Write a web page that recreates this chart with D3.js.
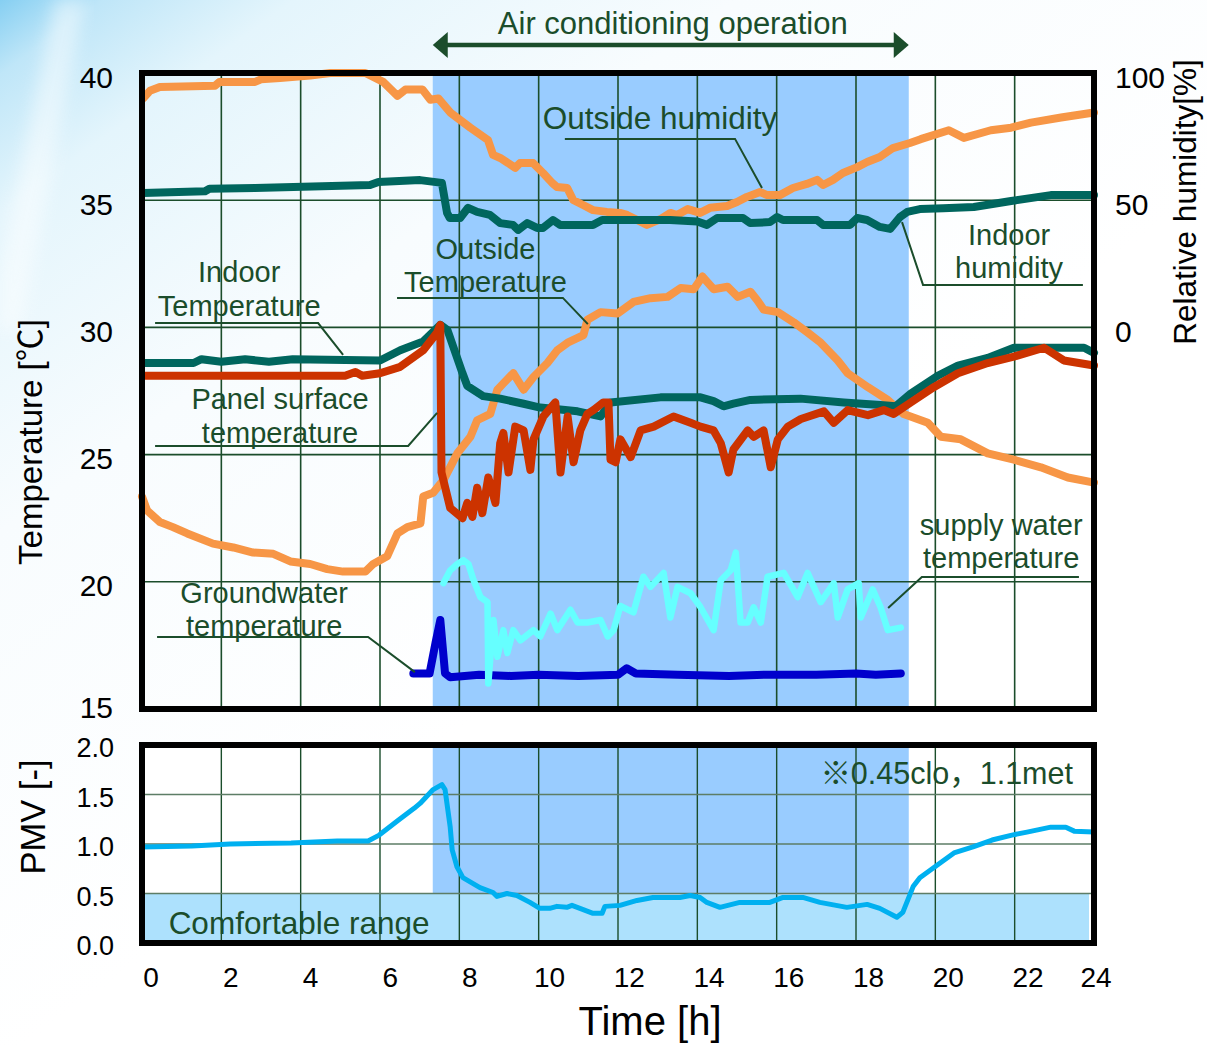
<!DOCTYPE html>
<html>
<head>
<meta charset="utf-8">
<script src="https://cdn.jsdelivr.net/npm/d3@7"></script>
<style>
  body { margin: 0; background: #fff; }
  svg { display: block; font-family: "Liberation Sans", Arial, "Noto Sans CJK JP", sans-serif; }
</style>
</head>
<body>
<script>
// ---------- data ----------
var hourTicks = [0, 2, 4, 6, 8, 10, 12, 14, 16, 18, 20, 22, 24];
var tempTicks = [15, 20, 25, 30, 35, 40];
var humTicks = [0, 50, 100];
var pmvTicks = [0.0, 0.5, 1.0, 1.5, 2.0];
var acPeriod = [7.33, 19.33];   // air conditioning on / off [h]
var comfortMax = 0.5;

// outside relative humidity [%]
var outHumHours = [0.03, 0.2, 0.45, 1.84, 1.95, 2.85, 3.0, 3.48, 4.24, 4.75, 5.63, 6.08, 6.44, 6.64, 7.07, 7.27, 7.47, 7.77, 8.28, 8.72, 8.85, 9.03, 9.23, 9.41, 9.53, 9.86, 10.11, 10.34, 10.46, 10.72, 10.87, 11.12, 11.37, 11.72, 12.05, 12.23, 12.73, 13.06, 13.32, 13.49, 13.76, 14.07, 14.32, 14.75, 15.0, 15.25, 15.58, 15.76, 16.08, 16.41, 16.76, 17.02, 17.17, 17.42, 17.67, 18.03, 18.28, 18.6, 18.93, 19.36, 19.63, 20.34, 20.72, 21.4, 21.91, 22.41, 23.17, 24.0];
var outHumValues = [90, 93, 94.5, 95, 96.5, 96.5, 97.5, 98, 99, 100, 100, 96.5, 91, 93.5, 93.5, 89.5, 90, 84.5, 78.5, 73.7, 67.8, 66.6, 64.6, 62.7, 64.6, 64.6, 60.7, 56.8, 55.2, 54.8, 50.1, 48.1, 46.1, 45.4, 45, 44.2, 40.3, 42.5, 45, 44.2, 46.5, 45, 47, 47.7, 49.3, 51.3, 53.2, 52, 52, 54.8, 56.4, 58, 56, 58, 60.7, 63, 65, 67, 70.5, 72.5, 74, 77.5, 74.5, 77.5, 78.5, 80.5, 82.5, 84.5];

// indoor relative humidity [%]
var inHumHours = [0.03, 1.59, 1.7, 2.85, 5.75, 5.96, 7.01, 7.56, 7.69, 7.76, 8.02, 8.22, 8.45, 8.77, 9.03, 9.35, 9.48, 9.71, 9.96, 10.11, 10.36, 10.54, 11.37, 11.6, 13.31, 14.0, 14.24, 14.5, 15.15, 15.33, 15.83, 16.01, 16.16, 17.02, 17.17, 17.85, 18.03, 18.28, 18.6, 18.86, 19.11, 19.29, 19.61, 20.2, 20.97, 21.91, 22.91, 24.0];
var inHumValues = [52.8, 53.5, 54.5, 54.8, 56, 57.2, 57.9, 56.8, 45, 43, 43, 47, 45.4, 44.2, 41, 40.3, 38.3, 41, 39.1, 39.1, 42.2, 40.3, 40.3, 42.2, 42.2, 41.6, 40.3, 43, 43, 41, 41.4, 43.4, 42.2, 42.2, 40.3, 40.3, 43, 42.2, 39.5, 38.7, 43.4, 45.4, 46.5, 46.8, 47.3, 49.7, 52, 52];

// outside temperature [°C]
var outTempHours = [0, 0.13, 0.45, 0.78, 1.14, 1.79, 2.3, 2.8, 3.31, 3.74, 4.24, 4.67, 5.07, 5.63, 5.83, 6.18, 6.44, 6.69, 7.02, 7.09, 7.34, 7.6, 7.95, 8.28, 8.45, 8.78, 8.96, 9.11, 9.36, 9.62, 9.87, 10.22, 10.47, 10.73, 11.13, 11.23, 11.56, 11.99, 12.39, 12.82, 13.25, 13.58, 13.91, 14.13, 14.41, 14.76, 15.02, 15.34, 15.52, 15.67, 16.03, 16.43, 16.78, 17.11, 17.54, 17.79, 18.3, 18.8, 19.2, 19.81, 20.14, 20.64, 21.32, 21.98, 22.66, 23.34, 24.0];
var outTempValues = [23.35, 22.8, 22.35, 22.15, 21.9, 21.5, 21.35, 21.15, 21.1, 20.8, 20.7, 20.5, 20.4, 20.4, 20.7, 21.0, 21.9, 22.15, 22.3, 23.35, 23.5, 24.0, 25.05, 25.7, 26.35, 26.6, 27.55, 27.8, 28.2, 27.55, 28.05, 28.6, 29.1, 29.4, 29.7, 30.3, 30.6, 30.55, 31.0, 31.15, 31.2, 31.55, 31.5, 32.0, 31.5, 31.6, 31.2, 31.4, 31.05, 30.7, 30.6, 30.2, 29.8, 29.4, 28.7, 28.2, 27.65, 27.15, 26.6, 26.25, 25.7, 25.6, 25.05, 24.8, 24.5, 24.1, 23.9];

// indoor temperature [°C]
var inTempHours = [0.03, 1.3, 1.5, 2.0, 2.6, 3.2, 3.8, 6.0, 6.51, 7.09, 7.52, 7.7, 8.08, 8.2, 8.6, 9.03, 9.62, 10.04, 10.98, 11.56, 11.81, 13.07, 14.08, 14.41, 14.66, 14.91, 15.34, 16.6, 17.69, 18.62, 19.0, 19.38, 20.06, 20.57, 21.32, 21.98, 23.75, 24.0];
var inTempValues = [28.6, 28.6, 28.75, 28.65, 28.75, 28.65, 28.75, 28.7, 29.1, 29.45, 30.1, 29.9, 28.2, 27.7, 27.3, 27.2, 27.0, 26.85, 26.7, 26.5, 27.05, 27.25, 27.25, 27.1, 26.9, 27.0, 27.15, 27.2, 27.05, 26.95, 26.9, 27.4, 28.1, 28.5, 28.8, 29.2, 29.2, 29.0];

// panel surface temperature [°C]
var panelHours = [0.03, 5.12, 5.38, 5.55, 6.0, 6.51, 7.09, 7.44, 7.52, 7.55, 7.77, 8.08, 8.2, 8.33, 8.45, 8.58, 8.73, 8.91, 9.03, 9.11, 9.24, 9.41, 9.62, 9.79, 9.87, 10.12, 10.42, 10.55, 10.73, 10.88, 11.05, 11.23, 11.38, 11.63, 11.76, 11.81, 11.94, 12.06, 12.32, 12.57, 12.9, 13.4, 13.83, 14.08, 14.41, 14.59, 14.79, 14.91, 15.27, 15.42, 15.67, 15.85, 16.03, 16.28, 16.61, 17.19, 17.44, 17.79, 18.3, 18.7, 18.95, 19.38, 19.96, 20.57, 21.32, 21.98, 22.74, 23.24, 24.0];
var panelValues = [28.1, 28.1, 28.25, 28.1, 28.2, 28.45, 29.1, 29.8, 30.1, 24.3, 22.9, 22.5, 23.1, 22.55, 23.7, 22.7, 24.1, 23.1, 25.45, 25.85, 24.3, 26.1, 25.95, 24.4, 25.6, 26.5, 27.05, 24.3, 26.5, 24.7, 25.95, 26.6, 26.75, 27.05, 27.05, 24.8, 24.7, 25.6, 24.9, 25.95, 26.1, 26.5, 26.25, 26.1, 25.95, 25.45, 24.3, 25.2, 25.95, 25.7, 25.95, 24.5, 25.6, 26.1, 26.4, 26.7, 26.25, 26.75, 26.55, 26.75, 26.6, 27.05, 27.65, 28.2, 28.6, 28.85, 29.2, 28.7, 28.5];

// groundwater temperature [°C]
var groundHours = [6.84, 7.25, 7.4, 7.52, 7.64, 7.77, 8.5, 9.3, 10.0, 11.0, 12.0, 12.22, 12.45, 13.5, 14.8, 15.8, 17.0, 18.0, 18.5, 19.13];
var groundValues = [16.4, 16.4, 17.6, 18.5, 16.4, 16.25, 16.35, 16.3, 16.35, 16.3, 16.35, 16.6, 16.4, 16.35, 16.3, 16.35, 16.35, 16.4, 16.35, 16.4];

// supply water temperature [°C]
var supplyHours = [7.6, 7.77, 7.95, 8.1, 8.23, 8.35, 8.53, 8.71, 8.73, 8.86, 8.96, 9.11, 9.21, 9.36, 9.54, 9.87, 10.04, 10.3, 10.47, 10.8, 10.98, 11.23, 11.56, 11.74, 11.89, 12.06, 12.39, 12.64, 12.82, 13.15, 13.32, 13.5, 13.83, 14.08, 14.41, 14.59, 14.84, 14.97, 15.09, 15.27, 15.42, 15.6, 15.77, 16.18, 16.53, 16.78, 17.11, 17.44, 17.54, 17.79, 18.07, 18.12, 18.42, 18.62, 18.8, 19.13];
var supplyValues = [19.95, 20.45, 20.7, 20.85, 20.7, 20.1, 19.4, 19.2, 16.0, 18.5, 17.05, 18.1, 17.2, 18.1, 17.7, 18.1, 17.85, 18.75, 18.1, 18.9, 18.4, 18.4, 18.5, 17.85, 18.1, 19.05, 18.8, 20.2, 19.8, 20.35, 18.6, 19.8, 19.55, 19.0, 18.1, 20.05, 20.45, 21.15, 18.4, 18.4, 19.0, 18.4, 20.2, 20.35, 19.4, 20.35, 19.2, 19.95, 18.6, 19.7, 19.95, 18.6, 19.7, 19.0, 18.1, 18.2];

// PMV [-]
var pmvHours = [0, 1.26, 2.22, 3.76, 4.92, 5.7, 5.98, 6.46, 6.86, 7.01, 7.34, 7.56, 7.64, 7.77, 7.82, 7.94, 8.09, 8.52, 8.85, 8.95, 9.2, 9.45, 9.78, 10.03, 10.28, 10.46, 10.71, 10.84, 11.04, 11.37, 11.6, 11.67, 12.05, 12.48, 12.88, 13.56, 13.82, 14.07, 14.24, 14.57, 15.07, 15.83, 16.16, 16.66, 17.09, 17.77, 18.28, 18.6, 19.03, 19.18, 19.44, 19.61, 20.06, 20.47, 20.95, 21.43, 21.93, 22.31, 22.91, 23.29, 23.5, 24.0];
var pmvValues = [0.97, 0.98, 1.0, 1.01, 1.03, 1.03, 1.09, 1.24, 1.36, 1.41, 1.55, 1.6, 1.55, 1.17, 0.94, 0.77, 0.66, 0.56, 0.51, 0.47, 0.5, 0.48, 0.41, 0.35, 0.35, 0.37, 0.36, 0.38, 0.35, 0.3, 0.3, 0.37, 0.38, 0.43, 0.46, 0.46, 0.48, 0.46, 0.41, 0.36, 0.41, 0.41, 0.46, 0.46, 0.41, 0.36, 0.39, 0.35, 0.26, 0.31, 0.57, 0.66, 0.79, 0.91, 0.97, 1.04, 1.09, 1.12, 1.17, 1.17, 1.13, 1.12];

// ---------- layout ----------
var W = 1207, H = 1046;
var green = "#1b4d2b";

var svg = d3.select("body").append("svg")
  .attr("width", W).attr("height", H);

// background wash (light blue at the top-left corner)
var defs = svg.append("defs");
var grad = defs.append("linearGradient").attr("id", "bg")
  .attr("x1", 0).attr("y1", 0).attr("x2", 0.5).attr("y2", 0.6);
[[0, "#86cff2"], [0.07, "#bfe6f8"], [0.2, "#e4f5fc"], [0.5, "#f8fcfe"], [1, "#ffffff"]]
  .forEach(function (s) { grad.append("stop").attr("offset", s[0]).attr("stop-color", s[1]); });
defs.append("filter").attr("id", "blur").append("feGaussianBlur").attr("stdDeviation", 8);
svg.append("rect").attr("width", W).attr("height", H).attr("fill", "url(#bg)");
svg.append("path").attr("d", "M55,0 L85,0 L20,330 L0,330 L0,270 Z")
  .attr("fill", "#ffffff").attr("opacity", 0.45).attr("filter", "url(#blur)");

// scales
var x = d3.scaleLinear().domain([0, 24]).range([142, 1094]);
var xLab = d3.scaleLinear().domain([0, 22]).range([151, 1028]);   // tick label spots
var yT = d3.scaleLinear().domain([15, 40]).range([709, 73]);
var yH = d3.scaleLinear().domain([0, 100]).range([yT(30), yT(40)]);
var yP = d3.scaleLinear().domain([0, 2]).range([943, 745]);

// ---------- top panel ----------
var topG = svg.append("g");

topG.append("rect")
  .attr("x", x(acPeriod[0])).attr("y", yT(40))
  .attr("width", x(acPeriod[1]) - x(acPeriod[0])).attr("height", yT(15) - yT(40))
  .attr("fill", "#99ccff");

topG.selectAll(".vg").data(hourTicks.slice(1, -1)).enter().append("line")
  .attr("x1", d => x(d)).attr("x2", d => x(d))
  .attr("y1", yT(40)).attr("y2", yT(15))
  .attr("stroke", green).attr("stroke-width", 1.6);
topG.selectAll(".hg").data(tempTicks.slice(1, -1)).enter().append("line")
  .attr("x1", x(0)).attr("x2", x(24))
  .attr("y1", d => yT(d)).attr("y2", d => yT(d))
  .attr("stroke", green).attr("stroke-width", 1.6);

function series(g, hours, values, yScale, color, width) {
  var pts = hours.map(function (h, i) { return [h, values[i]]; });
  g.append("path").datum(pts)
    .attr("d", d3.line().x(d => x(d[0])).y(d => yScale(d[1])))
    .attr("fill", "none").attr("stroke", color).attr("stroke-width", width)
    .attr("stroke-linejoin", "round").attr("stroke-linecap", "round");
}

series(topG, outHumHours, outHumValues, yH, "#f79646", 8);
series(topG, inHumHours, inHumValues, yH, "#00665e", 8);
series(topG, outTempHours, outTempValues, yT, "#f79646", 8);
series(topG, inTempHours, inTempValues, yT, "#00665e", 8);
series(topG, panelHours, panelValues, yT, "#cc3300", 8);
series(topG, groundHours, groundValues, yT, "#0000cc", 8);
series(topG, supplyHours, supplyValues, yT, "#66ffff", 6.5);

topG.append("rect")
  .attr("x", x(0)).attr("y", yT(40))
  .attr("width", x(24) - x(0)).attr("height", yT(15) - yT(40))
  .attr("fill", "none").attr("stroke", "#000").attr("stroke-width", 6);

// left temperature ticks
topG.selectAll(".tl").data(tempTicks).enter().append("text")
  .attr("x", 113).attr("y", d => yT(d) + (d === 15 ? -2 : 4))
  .attr("text-anchor", "end").attr("dominant-baseline", "central")
  .attr("font-size", 30).text(d => d);
// right humidity ticks
topG.selectAll(".hl").data(humTicks).enter().append("text")
  .attr("x", 1115).attr("y", d => yH(d) + 4)
  .attr("dominant-baseline", "central")
  .attr("font-size", 30).text(d => d);

topG.append("text")
  .attr("transform", "translate(42,442) rotate(-90)")
  .attr("text-anchor", "middle").attr("font-size", 33)
  .text("Temperature  [℃]");
topG.append("text")
  .attr("transform", "translate(1196,202) rotate(-90)")
  .attr("text-anchor", "middle").attr("font-size", 31.5)
  .text("Relative humidity[%]");

// air conditioning arrow
var ay = yT(40) - 28;
var ac = svg.append("g").attr("fill", green);
ac.append("line")
  .attr("x1", x(acPeriod[0]) + 10).attr("x2", x(acPeriod[1]) - 10)
  .attr("y1", ay).attr("y2", ay)
  .attr("stroke", green).attr("stroke-width", 4.5);
ac.append("path").attr("d", d3.line()([[x(acPeriod[0]), ay], [x(acPeriod[0]) + 15, ay - 13], [x(acPeriod[0]) + 15, ay + 13]]) + "Z");
ac.append("path").attr("d", d3.line()([[x(acPeriod[1]), ay], [x(acPeriod[1]) - 15, ay - 13], [x(acPeriod[1]) - 15, ay + 13]]) + "Z");
ac.append("text").attr("x", (x(acPeriod[0]) + x(acPeriod[1])) / 2 + 2).attr("y", ay - 22)
  .attr("text-anchor", "middle").attr("dominant-baseline", "central")
  .attr("font-size", 31).text("Air conditioning operation");

// series annotations (positions in hours / °C)
var notes = [
  { lines: ["Outside humidity"], at: [13.06, 38.23], leader: [[10.66, 37.41], [14.95, 37.41], [15.63, 35.48]] },
  { lines: ["Outside", "Temperature"], at: [8.66, 33.04], leader: [[6.43, 31.16], [10.61, 31.16], [11.24, 30.13]] },
  { lines: ["Indoor", "Temperature"], at: [2.45, 32.1], leader: [[0.33, 30.17], [4.44, 30.17], [5.07, 28.92]] },
  { lines: ["Panel surface", "temperature"], at: [3.48, 27.11], leader: [[0.33, 25.34], [6.71, 25.34], [7.44, 26.64]] },
  { lines: ["Groundwater", "temperature"], at: [3.08, 19.52], leader: [[0.38, 17.83], [5.7, 17.83], [6.88, 16.45]] },
  { lines: ["Indoor", "humidity"], at: [21.86, 33.59], leader: [[19.16, 34.14], [19.69, 31.67], [23.72, 31.67]] },
  { lines: ["supply water", "temperature"], at: [21.66, 22.19], leader: [[23.62, 20.19], [19.66, 20.19], [18.81, 18.97]] }
];
var ng = svg.append("g");
notes.forEach(function (n) {
  ng.append("path")
    .attr("d", d3.line().x(d => x(d[0])).y(d => yT(d[1]))(n.leader))
    .attr("fill", "none").attr("stroke", green).attr("stroke-width", 2);
  var two = n.lines.length > 1;
  n.lines.forEach(function (t, i) {
    ng.append("text")
      .attr("x", x(n.at[0]))
      .attr("y", yT(n.at[1]) + (two ? -1.5 + i * 33.5 : 0))
      .attr("text-anchor", "middle").attr("dominant-baseline", "central")
      .attr("font-size", two ? 29 : 31.5).attr("fill", green).text(t);
  });
});

// ---------- PMV panel ----------
var bot = svg.append("g");
bot.append("rect")
  .attr("x", x(0)).attr("y", yP(2))
  .attr("width", x(24) - x(0)).attr("height", yP(0) - yP(2))
  .attr("fill", "#ffffff");
bot.append("rect")
  .attr("x", x(acPeriod[0])).attr("y", yP(2))
  .attr("width", x(acPeriod[1]) - x(acPeriod[0])).attr("height", yP(0) - yP(2))
  .attr("fill", "#99ccff");
bot.append("rect")
  .attr("x", x(0) + 3).attr("y", yP(comfortMax))
  .attr("width", x(24) - x(0) - 8).attr("height", yP(0) - yP(comfortMax))
  .attr("fill", "#ade1fd");

bot.selectAll(".pv").data(hourTicks.slice(1, -1)).enter().append("line")
  .attr("x1", d => x(d)).attr("x2", d => x(d))
  .attr("y1", yP(2)).attr("y2", yP(0))
  .attr("stroke", green).attr("stroke-width", 1.4);
bot.selectAll(".ph").data(pmvTicks.slice(1, -1)).enter().append("line")
  .attr("x1", x(0)).attr("x2", x(24))
  .attr("y1", d => yP(d)).attr("y2", d => yP(d))
  .attr("stroke", "#5d7d66").attr("stroke-width", 1.6);

bot.append("text")
  .attr("x", x(3.96)).attr("y", yP(0.2))
  .attr("text-anchor", "middle").attr("dominant-baseline", "central")
  .attr("font-size", 31.5).attr("fill", green).text("Comfortable range");
bot.append("text")
  .attr("x", x(23.47)).attr("y", yP(1.72))
  .attr("text-anchor", "end").attr("dominant-baseline", "central")
  .attr("font-size", 30.5).attr("fill", green).text("※0.45clo，1.1met");

series(bot, pmvHours, pmvValues, yP, "#00b0f0", 5);

bot.append("rect")
  .attr("x", x(0)).attr("y", yP(2))
  .attr("width", x(24) - x(0)).attr("height", yP(0) - yP(2))
  .attr("fill", "none").attr("stroke", "#000").attr("stroke-width", 6);

bot.selectAll(".pl").data(pmvTicks).enter().append("text")
  .attr("x", 114).attr("y", d => yP(d) + 3)
  .attr("text-anchor", "end").attr("dominant-baseline", "central")
  .attr("font-size", 27).text(d => d.toFixed(1));

bot.append("text")
  .attr("transform", "translate(45,817) rotate(-90)")
  .attr("text-anchor", "middle").attr("font-size", 34.5)
  .text("PMV [-]");

// time axis labels
bot.selectAll(".xl").data(hourTicks).enter().append("text")
  .attr("x", d => d < 24 ? xLab(d) : x(d) + 2).attr("y", 977)
  .attr("text-anchor", "middle").attr("dominant-baseline", "central")
  .attr("font-size", 28).text(d => d);
bot.append("text")
  .attr("x", 650).attr("y", 1035)
  .attr("text-anchor", "middle").attr("font-size", 40)
  .text("Time [h]");
</script>
</body>
</html>
